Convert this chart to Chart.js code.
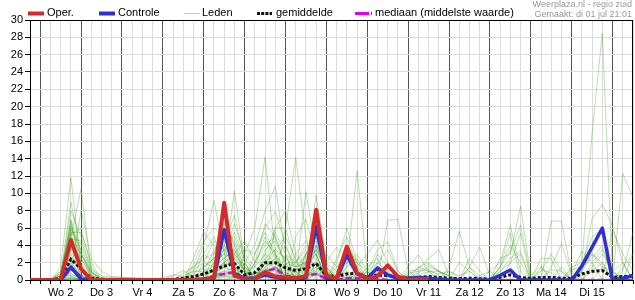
<!DOCTYPE html>
<html><head><meta charset="utf-8">
<script src="https://cdn.jsdelivr.net/npm/chart.js@4.4.1/dist/chart.umd.min.js"></script>
<style>html,body{margin:0;padding:0;background:#fff}canvas{display:block}</style>
</head><body>
<canvas id="c" width="635" height="300"></canvas>
<script>
// hours relative to Wo 2 00:00
const hours = [-6,0,6,12,18,24,30,36,42,48,54,60,66,72,78,84,90,96,102,108,114,120,126,132,138,144,150,156,162,168,174,180,186,192,198,204,210,216,222,228,234,240,246,252,258,264,270,276,282,288,294,300,306,312,318,324,330,336,342,348];
const dayLabels = ['Wo 2','Do 3','Vr 4','Za 5','Zo 6','Ma 7','Di 8','Wo 9','Do 10','Vr 11','Za 12','Zo 13','Ma 14','Di 15'];
const yTicks = [0,2,4,6,8,10,12,14,16,18,20,22,24,26,28,30];

const oper = [0,0,0,0,4.6,1.3,0,0,0,0, 0,0,0,0,0,0,0,0.1,0.3,8.9, 0.5,0.1,0.1,0.9,0.4,0.3,0.2,0.45,8.1,0.45, 0.2,3.85,0.8,0.1,0.45,1.7,0.4,0,0.1,0.1, null,null,null,null,null,null,null,null,null,null, null,null,null,null,null,null,null,null,null,null];
const controle = [0,0,0,0,1.5,0.1,0,0,0,0, 0,0,0,0,0,0,0,0.1,0.2,5.8, 0.7,0.2,0.2,0.6,0.3,0.1,0,0.3,6.2,0.2, 0.1,2.9,0.7,0.2,1.4,0.6,0.2,0.2,0.3,0.2, 0.1,0,0,0,0,0,0.55,1.15,0,0, 0,0,0,0,1.6,3.8,6.0,0,0.2,0.5];
const gemiddelde = [0,0,0,0.2,2.4,1.3,0.2,0.1,0,0, 0,0,0,0.05,0.1,0.2,0.4,0.7,1.15,1.6, 1.9,0.6,0.85,2.0,2.0,1.4,1.1,1.3,1.9,0.5, 0.4,0.7,0.8,0.3,0.6,0.5,0.3,0.2,0.3,0.4, 0.3,0.2,0.15,0.2,0.15,0.1,0.3,0.6,0.3,0.15, 0.3,0.3,0.2,0.2,0.7,1.0,1.1,0.3,0.4,0.5];
const mediaan = [0,0,0,0,1.3,0.4,0,0,0,0, 0,0,0,0,0,0,0,0.1,0.5,0.7, 0.9,0.2,0.2,1.0,1.3,0.5,0.3,0.5,0.7,0.1, 0,0.2,0.2,0,0.1,0,0,0,0,0, 0,0,0,0,0,0,0,0,0,0, 0,0,0,0,0,0,0,0,0,0];

const leden = [
[0,0,0,1.5,11.8,1.5,0,0,0,0, 0,0,0,0,0,0,0,0.1,0.3,0.6, 0.9,0.2,0,1.2,2,0.8,0.5,10.2,3,0, 0,0,0,0,0,0,0,0,0,0, 0,0,0,0,0,0,1,2.5,3.3,0, 0,0,0,0,0,0,0,0,0,0],
[0,0,0,0,8,5,1.2,0.5,0.3,0.3, 0.2,0,0,0,0,0,0,0,0.3,0.7, 1,0.2,0,2,3,1.5,0.8,1,9.8,2, 0,0,0,0,0,0,0,0,0,0, 0,0,0,0,0,0,1.5,5.4,0,0, 0,0,0,0,0,0,0,0,0,0],
[0,0,0,1,6.5,2.5,0.3,0,0,0, 0,0,0,0,0,0,0,0.8,1,1.5, 2,0.5,0,0,0,0,1,3,6,1.5, 0,0,0,0,1,0.5,0.5,0.5,0,0, 0,0,0,0,0,0,0,0,0,0.5, 1.7,0,0,0,0,0,0,0,0,0],
[0,0,0,0,6,4,0.8,0.3,0.2,0, 0,0,0,0,0,0,0,0,0.2,0.5, 0.7,0.2,0,2,1.5,0,0.5,2,4,1, 0,0,0,0,0,6.9,7,1.1,0,0, 0,0,0,0,0,0,0,0,0,0, 2.5,2.5,0,0,0,0,0,0,0,0],
[0,0,0,1,5.5,0.8,0,0,0,0, 0,0,0,0,0,0,0,0,0.2,0.4, 0.5,0,0,1.5,2.5,1,0,0,2,0.5, 0.5,1,0.3,0,0,0,0,1.5,2.9,1, 0,0,0,0,0,0,0,0,0,0, 1.2,0.8,0,0,0,0,0,0,0,0],
[0,0,0,0,5,3,0.5,0,0,0, 0,0,0,0,0,0.5,1,1,1.5,2.5, 3.5,1,0.3,0.3,0,0,0,0,1.5,0.5, 0.3,0,0,1,0,0,0,0,0,0, 0,0,0,0,0,0,0,0,0,0, 1.5,0,0,0,0,0,0,0,0,0],
[0,0,0,0.8,4.5,0.6,0,0,0,0, 0,0,0,0,0,0,1.5,2.5,3,6, 4.5,1.5,0.5,0.8,1.2,0,0,0,1,3, 1.5,2,1,0.5,0.5,0,0,0,0,0, 0,0,0,0,0,0,0,0,0,0, 0,6.8,6.8,0.5,0,0,0,0,0,0],
[0,0,0,0,4,1.5,0,0,0,0, 0,0,0,0,0,0,0,0,0,0.3, 0.5,0,0,2.5,3.5,2.5,1.5,2,3,0, 0,0,0,0,2,1,0,0,0,0, 0,0,0,0,0,0,0,0,0,0, 0,1.5,4.2,0.5,0,0,0,0,0,0],
[0,0,0,0,3.5,0.5,0,0,0,0, 0,0,0,0,0,0,1,4,9.2,3, 1,0,0,0,0,0,0,0,0.7,0.3, 0,0,0,0,0,0,0,0.5,1.5,2, 1,0.5,0,0,0,0,0,0,0,0, 0,1.2,1,0,0,0,0,0,0,0],
[0,0,0,0.5,3,0.4,0,0,0,0, 0,0,0,0,0,0,0,0,0,1.5, 10.3,2,0.5,0.5,0.3,0,0,0,0.7,0, 0,0.3,0.5,0,0,0,0,0,0.8,1.5, 1,0,0,0,0,0,0,0,0,0, 0,0,1.5,0,0,0,0,0,0,0],
[0,0,0,0,2.5,1,0,0,0,0, 0,0,0,0,0,0,0.8,1.5,2.5,4, 2,0.5,0,0.4,0,3,2,4,3,0, 0,0.2,0.2,0,0,0,0,0,0,0, 0,0,0,0,0,0,0,0,0,0, 0,0,0,0.8,3.3,2,0,0,0,0],
[0,0,0,0,2.2,0.3,0,0,0,0, 0,0,0,0,0,0,0,0,0.8,1.5, 2.5,1,0.5,1.2,1.5,0.8,0.4,1,2,0, 0,0,0,0,1.5,0.5,0.3,0,0,0, 0,0,0,0,0,0,0,0,0,0, 0,0,0,1.5,2,5,5.8,0,0,0],
[0,0,0,0.5,2,0.5,0,0,0,0, 0,0,0,0,0,0,0,0,0.6,1, 1.5,0.5,0.3,1,1.5,0.5,0.3,0.8,1.5,0, 0,0,0,1,3.5,4.4,1,0,0,0, 0,0,0,0,0,0,0,0,0,0, 0,0,0,1.2,1.5,3,1.5,0,0,0],
[0,0,0,0,1.8,0.3,0,0,0,0, 0,0,0,0,0,0,0,0.3,0.5,1, 1,0.3,0.2,1,1.3,0.5,0.3,0.5,1.2,0.2, 0,0,0,0,1.5,0,0,1,1.2,2.5, 3.5,0.5,0,0,0,0,0,0,0,0, 0,0,0,0,2,17,28.5,0.5,0,0],
[0,0,0,0,1.5,0.2,0,0,0,0, 0,0,0,0,0,0,0,0.2,0.5,0.8, 1,0.3,0.2,1,1.3,0,0,0.5,1,0.2, 0.3,0.4,0.3,0,0.5,0,0,0.8,1,1.2, 0.5,0,0,0,0,0,0,0,0,0, 0,0,0,0,1,7.1,8.7,6.2,2,0],
[0,0,0,0,1.2,0.2,0,0,0,0, 0,0,0,0,0,0,0,0.2,0.4,0.8, 0.9,0.2,0.2,1,1.2,0,0,0.5,0.8,0.2, 0.2,0.3,0,0,0,0,0,0,1,1.8, 1,0.4,0,0,0,0,0,0,0,0, 0,0,0,0,1.5,2.5,4,0,0,0],
[0,0,0,0,5,10.5,1,0,0,0, 0,0,0,0,0,0,0,0,0,0, 0.4,0,0,1,1.5,0.6,0.3,0.5,0.8,0, 0,0,0,0,0,0,0,0,0.6,1, 1,0.5,0,0,0,0,0,0,0,0, 0,0,0,0,0,1.5,3,1,0,0],
[0,0,0,0,1,8,2.5,1,0.4,0.3, 0.3,0.2,0,0,0,0,0,0,0,0, 0.3,0,0,1.2,1,0,0,0,0,0, 0,1.5,12.6,1,0,0,0,0,0,0, 0,0,0,0,0,0,0,0,0,0, 0,0,0,0,0,1,2,0,0,0],
[0,0,0,0,0.8,0,0,0,0,0, 0,0,0,0,0,0,0,0,0,0, 0,3,6,14.2,3,0,0,0,0,0, 0,0,0,0,0,0,0,0,0,1, 0.7,1,0.3,0,0,0,0,0,0,0, 0,0,0,0,0,0,1.5,1,0,0],
[0,0,0,0,0.6,0.4,0,0,0,0, 0,0,0,0,0,0,0,0,0,0, 0,2,4,8,10.8,3,0,0,0,0, 0,0,0,1.5,2.5,0,0,0.5,0,0, 0,0,0,0,0,0,0,0,0,0, 0,0,0,0,0,0,0,5.8,3,1],
[0,0,0,0.7,0.5,0,0,0,0,0, 0,0,0,0,0.5,1.1,0.3,0.3,0,0, 0,0,2,4,5,2,0,0,0,0, 1,3.5,1.5,0,0,0,0,0,0,0, 0,1.5,5.6,1.5,0,0,0,0,0,0, 0,0,0,0,0,0,0,1,2,0],
[0,0,0,0,0.4,0,0,0,0,0, 0,0,0,0,0,0.8,1.5,3,2,1.5, 1,0,0,0,0,0,0,0,0,2, 3.8,2.5,0,0,0,0,0,0,0,0, 0,1,0.5,1,0,0,0,0,0,0, 0,0,0,0,0,0,0,0,12.3,9.5],
[0,0,0,0,0.3,0,0,0,0,0, 0,0,0,0.3,0.6,0.4,0,0,0,0, 0,0,0,3,6,6,2,1,0,0, 1.5,3,1,0,0,0,0,0,0,0, 0,0,0,1.5,3.8,0.5,0,0,0,0, 0,0,0,0,0,0,0,0,1,5.5],
[0,0,0,0,0.2,0,0,0,0,0, 0,0,0,0,0,0,2.5,5.5,4,2.5, 1.5,0,0,0,0,0,0,0,0,0, 2,6,2,1,0,0,0,0,0,0, 0,0,0,0,0,0,0,0,0,0, 0,0,0,0,0,0,0,0,0,3],
[0,0,0,0,0.2,0,0,0,0,0, 0,0,0,0,0,0,1.8,4.5,6,5, 3,1,0,0,0,2,1.5,3,4,0.5, 0,0,0,0,0,0,0,0,0,0, 0,0,0,1.5,0.5,0,0,0,0,0, 0,0,0,0,0,0,0,0,0,0],
[0,0,0,0,0.1,0,0,0,0,0, 0,0,0,0,0,0,0,0,0,0, 0,0,3,6,7.9,4,1,0,0,0, 0,4,2,0,0,0,0,0,0,0, 0,0,0,0,0.5,1,0,0,0,0, 0,0,0,0,0,0,0,0,0,0],
[0,0,0,0,0,0,0,0,0,0, 0,0,0,0,0,0,1.2,2,1.5,3.5, 5.5,2.5,1,0.5,0.8,0,0,3,5,1.5, 0,0,0,0,0,0,0,0,0,0, 0,0,0,0,0,1,2,6.3,1,0, 0,0,0,0,0,0,0,0,0,0],
[0,0,0,0,0,0,0,0,0,0, 0,0,0,0,0,0,0.5,0.6,1,2, 3,1.5,0.5,0.6,0.5,0,0,2,3.5,1, 0.5,0.8,0,0,0,0,0,0,0,0, 0,0,0,0,0,0,2.5,3,8.5,0.5, 0,0,0,0,0,0,0,0,0,0],
[0,0,0,0,0,0,0,0,0,0, 0,0,0,0,0,0,0,0,1.2,2, 1.5,0,0,1,1.5,0.5,0,0,0,0, 0,0,1.5,3,4.6,2,0,0,0,0, 0,0,0,0,0,0,1.5,3.3,6.3,0.3, 0,0,0,0,0,0,0,0,0,0],
[0,0,0,0,0,0,0,0,0,0, 0,0,0,0,0,0,0,0,0,7.5, 4,1,0,0,0,6,14.1,5,0,0, 0,0,0,0,0,0,0,0,0,0, 0,0,0,0,0,0,1,2,5.4,0, 0,0,0,0,0,0,0,0,0,0],
[0,0,0,0.5,5.8,3.5,0.5,0,0,0, 0,0,0,0,0,0,0,1,3.5,5, 2.5,1.2,0,3.5,4.5,2,0,2.5,5.5,1, 0,1.5,2.5,0,0,0,0,0,0,0, 0,0,0,0,0,0,0,0,0,0, 0,0,0,0,0,0,0,0,0,0],
[0,0,0,0,5.2,6,1.5,0,0,0, 0,0,0,0,0,0,0,0,2,3, 6.5,3,1.5,5,2.5,0,3,4.5,2,0, 0,0,0,0,3,1.5,0,0,0,0, 0,0,2,1,0,0,0,0,0,0, 0,0,0,0,0,0,0,0,0,0],
[0,0,0,0,7,3,0.8,0,0,0, 0,0,0,0,0,0,0.5,3,5,2, 0,0,2,6.5,5,1.5,0,0,4,2, 1,0,0,0,0,0,0,0,0,0, 0,0,0,0,0,0,0,2,3,0, 0,0,0,0,0,0,0,0,0,0],
[0,0,0,0,4.8,4.5,1,0,0,0, 0,0,0,0,0,0,0,0,0,4, 7.5,2,0,0,6,8,3,1.5,3,0, 0,3,1,0,0,0,0,0,0,0, 0,0,0,0,0,0,0,0,0,0, 0,0,0,0,0,2,3.5,1,0,0],
[0,0,0,0,6.2,2,0.5,0,0,0, 0,0,0,0,0,0,0,2,4.5,3.5, 1.5,0,0,2,3.5,5,2.5,0,6.5,1.5, 0,0,0,0,0,0,0,0,1.5,1, 0,0,0,0,0,0,0,0,0,0, 0,0,0,0,0,0,0,0,0,0],
[0,0,0,0,3.8,1.5,0,0,0,0, 0,0,0,0,0,0,0,0,0,2, 3,4.5,2,4.5,3,0,5,7,2.5,0, 2.5,5,1.5,0,0,0,0,0,0,0, 0,0,0,0,0,0,0,0,0,0, 1,3,1,0,0,0,0,0,0,0],
[0,0,0,0.5,9,3,1,0,0,0, 0,0,0,0,0,0,0,0,1.5,2.5, 3.5,1,1.5,3,2,0,0,3,4.5,0.5, 0,0,0,0,0,0,0,0,0,0, 0,0,0,0,0,0,0,0,0,0, 0,0,0,0,1,3,2,0,0,0],
[0,0,0,0,5.5,5.5,2,0,0,0, 0,0,0,0,0,0,0,1.5,2.5,4.5, 5,2,0,2,5.5,3,0,0,2,0, 0,0,0,1,2,3.5,1,0,0,0, 0,0,0,0,0,0,0,0,0,0, 0,0,0,0,0,0,0,0,1.5,3],
[0,0,0,0,4,2.5,0.6,0,0,0, 0,0,0,0,0,0,0,0,3,6.5, 4,1.5,0,1.5,2.5,4,1.5,2,3.5,1, 0,0,0,0,0,0,0,0,0,0, 0,0,0,2.5,1,0,0,0,0,0, 0,0,0,0,0,0,0,0,0,0],
[0,0,0,0,6.8,1.2,0,0,0,0, 0,0,0,0,0,0,0,0.8,2,3, 2.5,3.5,3,5.5,3,1,2,3.5,5,0.8, 0,2,3,1,0,0,0,0,0,0, 0,0,0,0,0,0,1.5,4,2,0, 0,0,0,0,0,0,0,0,0,0]
];

const FONT = '"Liberation Sans", Arial, sans-serif';
const RED = '#d42a2a', BLUE = '#3030d0', MAG = '#e000f0', MEMBER = 'rgba(52,155,12,0.33)';

function pts(arr){ return hours.map((h,i)=>({x:h, y:arr[i]})); }

const datasets = [
  {label:'Oper.', data:pts(oper), borderColor:RED, borderWidth:4, borderJoinStyle:'round', pointRadius:0, tension:0},
  {label:'Controle', data:pts(controle), borderColor:BLUE, borderWidth:3.5, borderJoinStyle:'round', pointRadius:0, tension:0},
  {label:'mediaan', data:pts(mediaan), borderColor:MAG, borderWidth:2.5, borderDash:[6,3], pointRadius:0, tension:0},
  {label:'gemiddelde', data:pts(gemiddelde), borderColor:'#111', borderWidth:3, borderDash:[3,2], pointRadius:0, tension:0}
];
leden.forEach((m,k)=>datasets.push({label:'lid'+k, data:pts(m), borderColor:MEMBER, borderWidth:1, pointRadius:0, tension:0}));

const frame = {
  id:'frame',
  beforeDatasetsDraw(chart){
    const {ctx, chartArea:a} = chart;
    ctx.save(); ctx.strokeStyle='#000'; ctx.lineWidth=1;
    ctx.beginPath();
    ctx.moveTo(a.left, a.top+0.5); ctx.lineTo(a.right, a.top+0.5);
    ctx.moveTo(a.right-0.5, a.top); ctx.lineTo(a.right-0.5, a.bottom);
    ctx.stroke(); ctx.restore();
  },
  afterDraw(chart){
    const ctx = chart.ctx;
    ctx.save();
    ctx.font = '11px '+FONT; ctx.textBaseline='middle'; ctx.fillStyle='#000';
    const y = 13.5;
    function seg(x1,x2,color,w,dash){ ctx.beginPath(); ctx.strokeStyle=color; ctx.lineWidth=w; ctx.setLineDash(dash||[]); ctx.moveTo(x1,y); ctx.lineTo(x2,y); ctx.stroke(); ctx.setLineDash([]); }
    seg(28,44,RED,4); ctx.fillText('Oper.',47,13);
    seg(99,115,BLUE,4); ctx.fillText('Controle',118,13);
    seg(184,200,'#b5dca5',1); ctx.fillText('Leden',202,13);
    seg(257,272,'#111',3,[3,1.2]); ctx.fillText('gemiddelde',276,13);
    seg(355,372,MAG,3,[14,2]); ctx.fillText('mediaan (middelste waarde)',375,13);
    ctx.font = '9px '+FONT; ctx.fillStyle='#999'; ctx.textAlign='right';
    ctx.fillText('Weerplaza.nl - regio zuid',632,5);
    ctx.fillText('Gemaakt: di 01 jul 21:01',632,15);
    ctx.restore();
  }
};

new Chart(document.getElementById('c'), {
  type:'line',
  data:{datasets},
  plugins:[frame],
  options:{
    responsive:false, animation:false, events:[],
    layout:{padding:{top:20,right:1,left:0,bottom:0}},
    plugins:{legend:{display:false}, tooltip:{enabled:false}},
    font:{family:FONT,size:11},
    scales:{
      x:{type:'linear', min:-6, max:348,
        afterFit(s){ s.height = 20; },
        border:{display:true,color:'#000',width:1},
        grid:{color:(c)=> (c.tick && c.tick.value % 24 === 0) ? '#555' : '#dcdcdc', lineWidth:1, tickColor:'#000', tickLength:4},
        ticks:{stepSize:6, autoSkip:false, maxRotation:0, minRotation:0, padding:2, color:'#000', font:{family:FONT,size:11},
          callback:(v)=>{ const m=((v%24)+24)%24; if(m===12){ const k=(v-12)/24; return dayLabels[k]!==undefined?dayLabels[k]:''; } return ''; }}
      },
      y:{type:'linear', min:yTicks[0], max:yTicks[yTicks.length-1],
        afterFit(s){ s.width = 30; },
        afterBuildTicks(s){ s.ticks = yTicks.map(v=>({value:v})); },
        border:{display:true,color:'#000',width:1},
        grid:{color:'#dcdcdc', lineWidth:1, tickColor:'#000', tickLength:5},
        ticks:{padding:2, color:'#000', font:{family:FONT,size:11}}
      }
    }
  }
});
</script>
</body></html>
